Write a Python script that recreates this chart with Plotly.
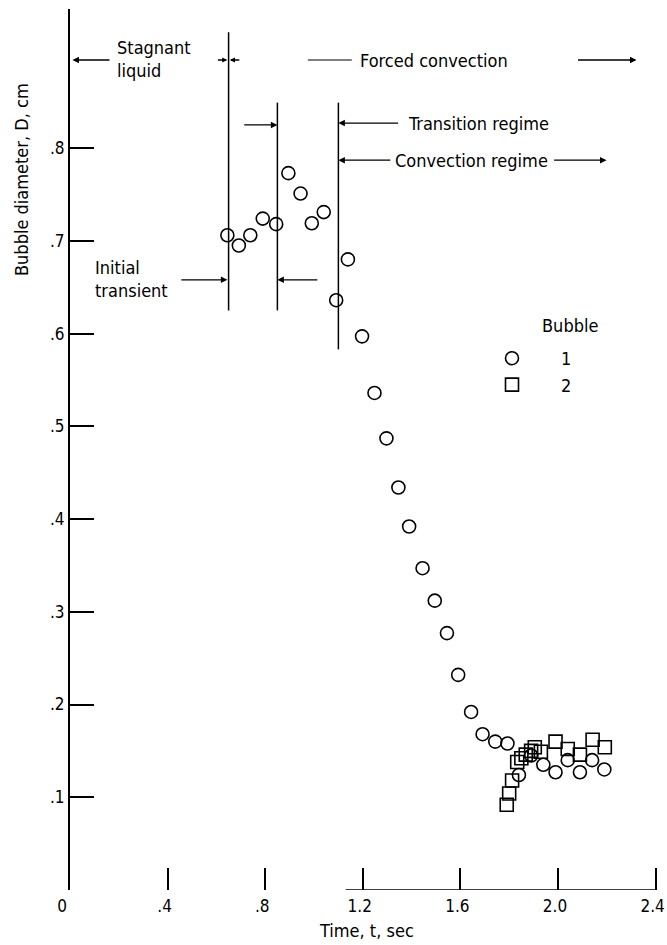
import plotly.graph_objects as go

# ---------------- data ----------------
bubble1_t = [0.645, 0.692, 0.739, 0.790, 0.845, 0.895, 0.945, 0.991, 1.040, 1.091,
             1.139, 1.197, 1.248, 1.297, 1.346, 1.390, 1.445, 1.495, 1.545, 1.591,
             1.644, 1.691, 1.743, 1.793, 1.840, 1.890, 1.940, 1.990, 2.040, 2.090,
             2.140, 2.190]
bubble1_d = [0.706, 0.695, 0.706, 0.724, 0.718, 0.773, 0.751, 0.719, 0.731, 0.636,
             0.680, 0.597, 0.536, 0.487, 0.434, 0.392, 0.347, 0.312, 0.277, 0.232,
             0.192, 0.168, 0.160, 0.158, 0.124, 0.145, 0.135, 0.127, 0.140, 0.127,
             0.140, 0.130]

bubble2_t = [1.790, 1.800, 1.812, 1.833, 1.850, 1.868, 1.890, 1.905, 1.930, 1.990,
             2.040, 2.090, 2.142, 2.192]
bubble2_d = [0.092, 0.104, 0.118, 0.138, 0.142, 0.146, 0.150, 0.154, 0.149, 0.160,
             0.152, 0.146, 0.162, 0.154]

x_tickvals = [0, 0.4, 0.8, 1.2, 1.6, 2.0, 2.4]
x_ticktext = ["0\u00a0\u00a0", ".4", ".8", "1.2", "1.6", "2.0", "2.4"]
y_tickvals = [0.1, 0.2, 0.3, 0.4, 0.5, 0.6, 0.7, 0.8]
y_ticktext = [".1", ".2", ".3", ".4", ".5", ".6", ".7", ".8"]

# regime boundaries (time) and their vertical extents (diameter)
bound_t = [0.65, 0.85, 1.10]
bound_lo = [0.625, 0.625, 0.583]
bound_hi = [0.925, 0.849, 0.849]

FONT = "DejaVu Sans Condensed, Liberation Sans Narrow, DejaVu Sans, sans-serif"
FS = 18

# plot-area geometry (pixels)
ML, MR, MT, MB = 70, 9, 9, 55
PW = 667 - ML - MR
PH = 945 - MT - MB

fig = go.Figure()
fig.add_trace(go.Scatter(
    x=bubble1_t, y=bubble1_d, mode="markers", name="1",
    marker=dict(symbol="circle-open", size=13, color="black", line=dict(width=1.6)),
))
fig.add_trace(go.Scatter(
    x=bubble2_t, y=bubble2_d, mode="markers", name="2",
    marker=dict(symbol="square-open", size=13, color="black", line=dict(width=1.6)),
))

shapes = []
for t, lo, hi in zip(bound_t, bound_lo, bound_hi):
    shapes.append(dict(type="line", xref="x", yref="y", x0=t, x1=t, y0=lo, y1=hi,
                       line=dict(color="black", width=1.5)))
# lead line for "Forced convection"
shapes.append(dict(type="line", xref="x", yref="y", x0=0.975, x1=1.155, y0=0.895, y1=0.895,
                   line=dict(color="black", width=1.2)))
# partial baseline of the time axis
shapes.append(dict(type="line", xref="x", yref="y", x0=1.13, x1=2.4, y0=0, y1=0,
                   line=dict(color="black", width=1.5)))

def arrow(x_head, y_head, x_tail, y_tail, size=1.0):
    return dict(x=x_head, y=y_head, ax=x_tail, ay=y_tail, xref="x", yref="y",
                axref="x", ayref="y", text="", showarrow=True, arrowhead=2,
                arrowsize=size, arrowwidth=1.3, arrowcolor="black", standoff=0,
                startstandoff=0)

def label(x, y, text, xanchor="left", size=FS, **kw):
    d = dict(x=x, y=y, xref="x", yref="y", text=text, showarrow=False,
             xanchor=xanchor, yanchor="middle", align="left",
             font=dict(family=FONT, size=size, color="black"))
    d.update(kw)
    return d

def px_x(p):
    return (p - ML) / PW

def px_y(p):
    return (945 - MB - p) / PH

annotations = [
    # Stagnant liquid
    arrow(0.01, 0.895, 0.168, 0.895),
    label(0.184, 0.896, "Stagnant<br>liquid"),
    # double arrow at first boundary
    arrow(0.645, 0.895, 0.600, 0.895, size=0.8),
    arrow(0.655, 0.895, 0.700, 0.895, size=0.8),
    # Forced convection
    label(1.18, 0.895, "Forced convection"),
    arrow(2.322, 0.895, 2.076, 0.895),
    # arrow into the 0.85 boundary
    arrow(0.85, 0.825, 0.708, 0.825),
    # Transition regime
    arrow(1.10, 0.827, 1.351, 0.827),
    label(1.376, 0.827, "Transition regime"),
    # Convection regime
    arrow(1.10, 0.787, 1.319, 0.787),
    label(1.323, 0.787, "Convection regime"),
    arrow(2.199, 0.787, 1.978, 0.787),
    # Initial transient
    label(0.094, 0.659, "Initial<br>transient"),
    arrow(0.645, 0.658, 0.45, 0.658),
    arrow(0.85, 0.658, 1.02, 0.658),
    # legend heading
    dict(x=px_x(540), y=px_y(325), xref="paper", yref="paper",
         text="Bubble", showarrow=False, xanchor="left", yanchor="middle",
         font=dict(family=FONT, size=FS, color="black")),
    # axis titles
    dict(x=px_x(367), y=px_y(930), xref="paper", yref="paper",
         text="Time, t, sec", showarrow=False, xanchor="center", yanchor="middle",
         font=dict(family=FONT, size=FS, color="black")),
    dict(x=px_x(22), y=px_y(180), xref="paper", yref="paper",
         text="Bubble diameter, D, cm", showarrow=False, textangle=-90,
         xanchor="center", yanchor="middle",
         font=dict(family=FONT, size=FS, color="black")),
]

fig.update_layout(
    width=667, height=945, autosize=False,
    margin=dict(l=ML, r=MR, t=MT, b=MB, pad=0, autoexpand=False),
    paper_bgcolor="white", plot_bgcolor="white",
    font=dict(family=FONT, size=FS, color="black"),
    showlegend=True,
    legend=dict(x=px_x(463), y=px_y(340), xanchor="left", yanchor="top",
                bgcolor="rgba(0,0,0,0)", borderwidth=0, itemwidth=88,
                font=dict(family=FONT, size=FS, color="black"), tracegroupgap=0),
    shapes=shapes,
    annotations=annotations,
    xaxis=dict(range=[0, 2.41], tickvals=x_tickvals, ticktext=x_ticktext,
               ticks="inside", ticklen=22, tickwidth=1.6, tickcolor="black",
               showline=False, showgrid=False, zeroline=False, automargin=False,
               tickfont=dict(family=FONT, size=17, color="black"),
               ticklabelstandoff=4, ticklabelshift=-3, ticklabeloverflow="allow"),
    yaxis=dict(range=[0, 0.95], tickvals=y_tickvals, ticktext=y_ticktext,
               ticks="inside", ticklen=24, tickwidth=1.6, tickcolor="black",
               showline=True, linewidth=2, linecolor="black", automargin=False,
               showgrid=False, zeroline=False,
               tickfont=dict(family=FONT, size=17, color="black")),
)

fig.write_html("out.html")
